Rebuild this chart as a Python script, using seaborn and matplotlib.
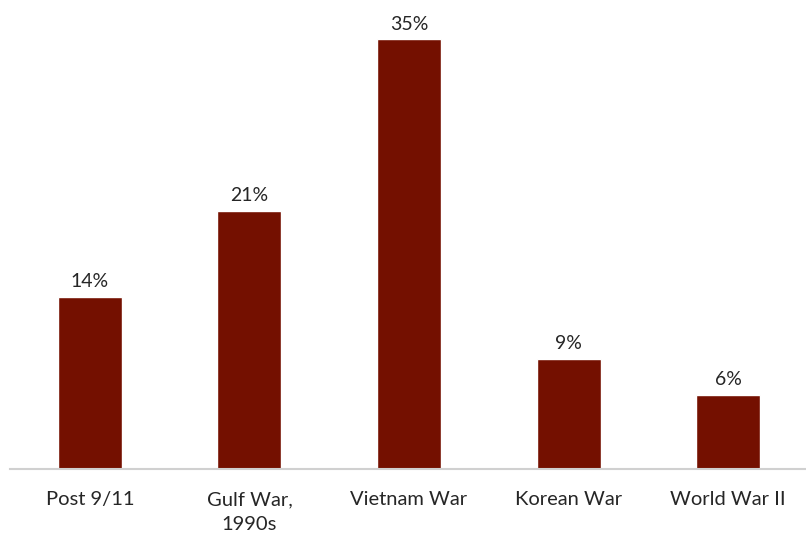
import matplotlib
matplotlib.use("Agg")
import matplotlib.pyplot as plt
import seaborn as sns
import pandas as pd

# chart data
categories = ["Post 9/11", "Gulf War,\n1990s", "Vietnam War", "Korean War", "World War II"]
shares = [14, 21, 35, 9, 6]

sns.set_style("white")
plt.rcParams["font.family"] = ["Lato", "DejaVu Sans"]

df = pd.DataFrame({"era": categories, "share": shares})

fig = plt.figure(figsize=(8.06, 5.45), dpi=100)
ax = fig.add_axes([10 / 806, 76 / 545, 798 / 806, 459 / 545])

sns.barplot(data=df, x="era", y="share", color="#741000", saturation=1,
            width=0.4, ax=ax)

for i, v in enumerate(shares):
    ax.annotate(f"{v}%", (i, v), xytext=(0, 5), textcoords="offset points",
                ha="center", va="bottom", fontsize=14, color="#262626")

ax.set_xlim(-0.5, 4.5)
ax.set_ylim(0, 37.4)
ax.set_xlabel("")
ax.set_ylabel("")
ax.set_yticks([])
ax.tick_params(axis="x", length=0, pad=16, labelsize=14.5, labelcolor="#262626")
for lbl in ax.get_xticklabels():
    lbl.set_linespacing(1.55)
for s in ["top", "left", "right"]:
    ax.spines[s].set_visible(False)
ax.spines["bottom"].set_color("#d0d0d0")
ax.spines["bottom"].set_linewidth(1.5)

fig.savefig("out.png", dpi=100)
